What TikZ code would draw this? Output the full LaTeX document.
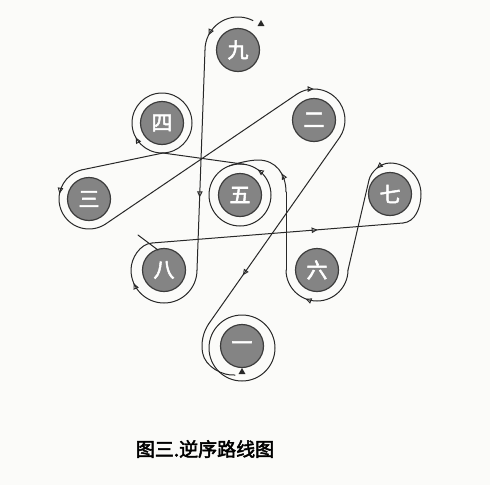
\documentclass[tikz,border=0pt]{standalone}
\usepackage{fontspec}
\newfontfamily\cjk[FakeBold=2.5]{Noto Sans CJK SC}
\usetikzlibrary{calc,arrows.meta,decorations.markings,shapes.geometric}
\definecolor{ink}{RGB}{40,40,40}
\definecolor{discfill}{RGB}{132,132,132}
\definecolor{discedge}{RGB}{60,60,60}
\definecolor{paper}{RGB}{251,251,249}
\begin{document}
\begin{tikzpicture}[x=1pt,y=1pt,yscale=-1,
  disc/.style={circle, fill=discfill, draw=discedge, line width=1.2pt, minimum size=43pt, inner sep=0pt, text=white, font=\cjk\fontsize{21}{21}\selectfont},
  route/.style={draw=ink, line width=1pt, line cap=round, line join=round},
  ring/.style={draw=ink, line width=1pt},
  arrowat/.style={postaction={decorate}, decoration={markings, mark=at position #1 with {\arrow{Triangle[open, length=6pt, width=5.5pt, line width=0.9pt]}}}},
  endmark/.style={regular polygon, regular polygon sides=3, fill=ink, inner sep=0pt, minimum size=8pt},
]
\useasboundingbox (0,0) rectangle (490,485);
\fill[paper] (0,0) rectangle (490,485);

\node[disc] (n9) at (238,50) {九};
\node[disc] (n4) at (162,123) {四};
\node[disc] (n2) at (314,120) {二};
\node[disc] (n3) at (89,199) {三};
\node[disc] (n5) at (240,195) {五};
\node[disc] (n7) at (390,194) {七};
\node[disc] (n8) at (164,270) {八};
\node[disc] (n6) at (317,270) {六};
\node[disc] (n1) at (242,346) {一};

% start
\node[endmark] (startmark) at (261,24) {};
\draw[route, arrowat=0.77] ($(n9)+(-63:33)$) arc[start angle=-63, end angle=-180, radius=33];
\draw[route, arrowat=0.67] ($(n9)+(-33,0)$) -- ($(n8)+(33,0)$);
% 8
\draw[route, arrowat=0.64] ($(n8)+(33,0)$) arc[start angle=0, end angle=180, radius=33]
   .. controls ($(n8)+(-33,-12)$) and ($(n8)+(-24,-26)$) .. ($(n8)+(-12,-27)$);
\draw[route] ($(n8)+(-26,-35)$) -- ($(n8)+(-6,-20)$);
\draw[route, arrowat=0.66] ($(n8)+(-12,-27)$) -- ($(n7)+(13,29)$);
% 7
\draw[route] ($(n7)+(13,29)$) .. controls ($(n7)+(25,28)$) and ($(n7)+(31,14)$) .. ($(n7)+(31,0)$)
  .. controls ($(n7)+(31,-17)$) and ($(n7)+(17,-31)$) .. ($(n7)+(0,-31)$);
\draw[route, arrowat=0.5] ($(n7)+(0,-31)$) .. controls ($(n7)+(-10,-31)$) and ($(n7)+(-19.2,-21.8)$) .. ($(n7)+(-21,-14)$);
\draw[route] ($(n7)+(-21,-14)$) -- ($(n6)+(31,0)$);
% 6
\draw[route, arrowat=0.62] ($(n6)+(31,0)$) arc[start angle=0, end angle=180, radius=31];
\draw[route] ($(n6)+(-31,0)$) -- ($(n5)+(46,-3)$);
% 5
\draw[route, arrowat=0.25] ($(n5)+(46,-3)$) .. controls ($(n5)+(46,-21)$) and ($(n5)+(36,-35)$) .. ($(n5)+(18,-35)$)
   .. controls ($(n5)+(10,-35)$) and ($(n5)+(-3.1,-31.8)$) .. ($(n5)+(-110:31)$);
\draw[route, arrowat=0.153] ($(n5)+(31,0)$) arc[start angle=0, end angle=-360, radius=31];
\draw[route] ($(n5)+(-81:31)$) -- ($(n4)+(1,30)$);
% 4
\draw[route, arrowat=0.17] ($(n4)+(0,30)$) arc[start angle=90, end angle=450, radius=30];
\draw[route] ($(n4)+(1,30)$) -- ($(n3)+(-104:30)$);
% 3
\draw[route, arrowat=0.33] ($(n3)+(-104:30)$) arc[start angle=-104, end angle=-303.7, radius=30];
\draw[route] ($(n3)+(56.3:30)$) -- ($(n2)+(-123.7:31)$);
% 2
\draw[route, arrowat=0.21] ($(n2)+(-123.7:31)$) arc[start angle=-123.7, end angle=34, radius=31];
\draw[route, arrowat=0.74] ($(n2)+(34:31)$) -- ($(n1)+(214:40)$);
% 1
\draw[route] ($(n1)+(214:40)$) arc[start angle=214, end angle=170, radius=40]
   .. controls ($(n1)+(-37,20.7)$) and ($(n1)+(-19,30.2)$) .. ($(n1)+(-7,29)$);
\draw[ring] ($(n1)+(0,2)$) circle[radius=33];
\node[endmark] (endmark) at (242,372) {};

\node[font=\cjk\fontsize{19}{19}\selectfont, text=black] (cap) at (205,449) {图三.逆序路线图};
\end{tikzpicture}
\end{document}
